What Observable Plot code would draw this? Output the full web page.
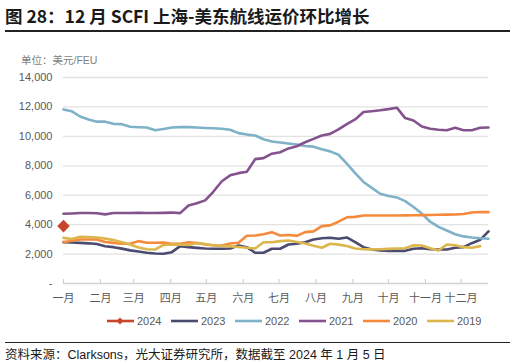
<!DOCTYPE html>
<html><head><meta charset="utf-8">
<script src="https://cdn.jsdelivr.net/npm/d3@7"></script>
<script src="https://cdn.jsdelivr.net/npm/@observablehq/plot@0.6"></script>
<style>
body{margin:0;width:516px;height:364px;position:relative;background:#fff;font-family:"Liberation Sans","Noto Sans CJK SC",sans-serif;overflow:hidden}
#title{position:absolute;left:5px;top:3px;font-family:"Noto Sans CJK SC",sans-serif;font-weight:bold;font-size:17.5px;color:#1a1a1a;white-space:nowrap;letter-spacing:0}
#tline{position:absolute;left:5px;top:30px;width:505px;height:1.5px;background:#222}
#unit{position:absolute;left:21px;top:52px;font-size:10.5px;color:#7f7f7f;white-space:nowrap}
#chart{position:absolute;left:0;top:40px}
#legend{position:absolute;top:313px;left:107px;display:flex;gap:9.5px;font-size:11px;color:#595959}
#legend .it{display:flex;align-items:center;height:16px}
#legend svg{margin-right:3px}
#bline{position:absolute;left:5px;top:342px;width:505px;height:1px;background:#222}
#caption{position:absolute;left:5px;top:344px;font-size:12.5px;color:#1a1a1a;white-space:nowrap}
</style></head>
<body>
<div id="title">图 28：12 月 SCFI 上海-美东航线运价环比增长</div>
<div id="tline"></div>
<div id="unit">单位：美元/FEU</div>
<div id="chart"></div>
<div id="legend"></div>
<div id="bline"></div>
<div id="caption">资料来源：Clarksons，光大证券研究所，数据截至 2024 年 1 月 5 日</div>
<script>
const years = ["2024","2023","2022","2021","2020","2019"];
const colors = ["#c7452a","#4a4b6f","#7fb1c8","#84538e","#f48a3a","#dcb64c"];
const monthLabels = ["一月","二月","三月","四月","五月","六月","七月","八月","九月","十月","十一月","十二月"];
const yTicks = [0,2000,4000,6000,8000,10000,12000,14000];

const s2024 = [3900];
const s2023 = [2810,2790,2760,2730,2680,2530,2470,2370,2250,2170,2090,2040,2020,2130,2540,2470,2420,2380,2360,2360,2380,2580,2470,2090,2090,2360,2360,2650,2700,2810,2990,3080,3110,3040,3130,2810,2470,2310,2250,2220,2220,2220,2360,2400,2330,2310,2310,2430,2470,2740,2970,3540];
const s2022 = [11830,11700,11350,11150,11000,11000,10850,10830,10650,10620,10600,10420,10500,10600,10630,10630,10600,10570,10550,10520,10450,10220,10120,10060,9800,9650,9580,9520,9450,9350,9300,9120,8980,8750,8150,7500,6900,6500,6100,5950,5850,5600,5200,4750,4200,3850,3600,3350,3200,3130,3080,3040];
const s2021 = [4740,4760,4790,4790,4770,4700,4790,4790,4790,4800,4790,4790,4800,4820,4780,5300,5450,5650,6250,6950,7350,7500,7600,8450,8520,8820,8920,9180,9330,9600,9830,10060,10170,10470,10830,11150,11650,11710,11770,11850,11950,11240,11080,10670,10520,10450,10420,10580,10420,10420,10580,10600];
const s2020 = [2800,2900,2990,2990,2990,2820,2760,2700,2700,2880,2770,2770,2780,2700,2700,2800,2750,2650,2600,2580,2720,2770,3250,3260,3350,3490,3260,3300,3240,3490,3540,3900,3950,4200,4500,4530,4620,4620,4620,4620,4620,4630,4640,4650,4660,4670,4680,4690,4720,4820,4860,4850];
const s2019 = [3100,3020,3180,3160,3130,3050,2950,2800,2650,2450,2330,2310,2620,2650,2640,2620,2760,2680,2580,2550,2520,2480,2430,2380,2800,2800,2880,2920,2820,2720,2560,2430,2700,2640,2550,2380,2330,2320,2330,2350,2380,2400,2600,2580,2400,2240,2650,2600,2470,2430,2540];

const base = Date.UTC(2023,0,1);
const toDate = i => new Date(base + i*7*864e5);
const monthStarts = d3.range(12).map(m => new Date(Date.UTC(2023,m,1)));

const seriesMap = {"2023":s2023,"2022":s2022,"2021":s2021,"2020":s2020,"2019":s2019};
const rows = [];
for (const k of ["2023","2022","2021","2020","2019"]) {
  seriesMap[k].forEach((v,i)=>rows.push({series:k,date:toDate(i),value:v}));
}
const rows2024 = s2024.map((v,i)=>({series:"2024",date:toDate(i),value:v}));

const fmt = d3.format(",");
const chart = Plot.plot({
  width:516, height:270,
  marginTop:37, marginBottom:27, marginLeft:63, marginRight:28,
  style:{fontFamily:'"Liberation Sans","Noto Sans CJK SC",sans-serif', fontSize:"11px", color:"#595959", background:"transparent"},
  x:{type:"utc", domain:[toDate(0), toDate(51)], label:null},
  y:{domain:[0,14000], label:null},
  color:{domain:years, range:colors},
  marks:[
    Plot.ruleY(yTicks.filter(d=>d>0), {stroke:"#e2e2e2", strokeWidth:1.3}),
    Plot.ruleY([0], {stroke:"#d2d2d2", strokeWidth:1.3}),
    Plot.ruleX(monthStarts, {x:d=>d, y1:0, y2:0, insetTop:-4, stroke:"#d2d2d2", strokeWidth:1.2}),
    Plot.axisY({ticks:yTicks, tickSize:0, tickPadding:11, label:null, tickFormat:d=>d===0?"-":fmt(d), fill:"#595959"}),
    Plot.axisX({ticks:monthStarts, tickSize:0, tickPadding:11, label:null, tickFormat:d=>monthLabels[d.getUTCMonth()], fill:"#595959"}),
    Plot.line(rows, {x:"date", y:"value", z:"series", stroke:"series", strokeWidth:2.6}),
    Plot.dot(rows2024, {x:"date", y:"value", symbol:"square", r:5, rotate:45, fill:"series", stroke:"none"})
  ]
});
document.getElementById("chart").appendChild(chart);

const lg = document.getElementById("legend");
years.forEach((y,i)=>{
  const it = document.createElement("div");
  it.className="it";
  const marker = y==="2024" ? `<rect x="10.5" y="2.5" width="5" height="5" fill="${colors[i]}" transform="rotate(45 13 5)"/>` : "";
  it.innerHTML = `<svg width="27" height="10"><line x1="0" y1="5" x2="27" y2="5" stroke="${colors[i]}" stroke-width="2.6"/>${marker}</svg><span>${y}</span>`;
  lg.appendChild(it);
});
</script>
</body></html>
